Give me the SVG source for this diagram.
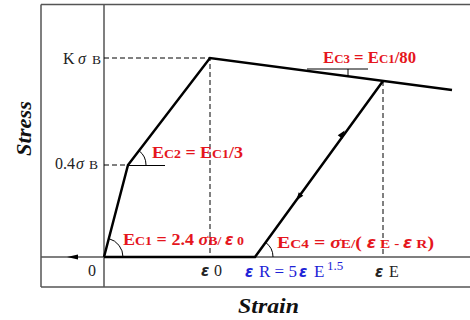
<svg xmlns="http://www.w3.org/2000/svg" width="470" height="320" viewBox="0 0 470 320">
<defs>
<style>
.frame{stroke:#555;stroke-width:1.5;fill:none}
.curve{stroke:#000;stroke-width:2.5;fill:none;stroke-linejoin:miter}
.dash{stroke:#000;stroke-width:1;stroke-dasharray:5,3;fill:none}
.thin{stroke:#000;stroke-width:1;fill:none}
.ax{font-family:"Liberation Serif","Times New Roman",serif;font-size:16px;fill:#222}
.red{font-family:"Liberation Serif","Times New Roman",serif;font-size:17.5px;font-weight:bold;fill:#e5161d}
.blue{font-family:"Liberation Serif","Times New Roman",serif;font-size:17px;fill:#1c22d6}
.sm{font-size:13.5px}
.eps{font-family:"DejaVu Sans",sans-serif;font-weight:bold;font-style:italic}
.title{font-family:"Liberation Serif","Times New Roman",serif;font-size:21px;font-weight:bold;font-style:italic;fill:#111}
</style>
</defs>
<g id="frame">
<path class="frame" d="M41,4.5 H470 M41,4.5 V287 M104,4.5 V287 M41,257 H470 M41,287 H470"/>
</g>
<g id="connectors">
<path class="dash" d="M104,58 H210 V257 M104,165 H128 M383,81 V257"/>
<path class="thin" d="M128,165.5 H165 M307,69 H368 M348,69 V76"/>
<path class="thin" d="M108.8,238.6 A19,19 0 0 1 123,257 M139,150.7 A18,18 0 0 1 146,165 M265.6,242.4 A18,18 0 0 1 273,257"/>
<path class="curve" d="M104,257 L128,165 L210,58 L452,90"/>
<path class="curve" d="M104,257 H255 L383,81"/>
<polygon points="67,257 78,254.5 78,259.5" fill="#000"/>
<polygon points="0,-2.8 8,0 0,2.8" fill="#000" transform="translate(340,137) rotate(-54)"/>
<polygon points="0,-2.8 8,0 0,2.8" fill="#000" transform="translate(301,194) rotate(126)"/>
</g>
<g id="yaxis-labels">
<text class="ax" y="64"><tspan x="63">K</tspan><tspan x="78" font-style="italic">σ</tspan><tspan x="92" class="sm">B</tspan></text>
<text class="ax" y="169"><tspan x="55">0.4</tspan><tspan x="76" font-style="italic">σ</tspan><tspan x="89" class="sm">B</tspan></text>
</g>
<g id="xaxis-labels">
<text class="ax" x="88" y="276">0</text>
<text class="ax" y="276"><tspan x="201" class="eps" font-size="15">ε</tspan><tspan x="214">0</tspan></text>
<text class="blue" y="277"><tspan x="245" class="eps" font-size="15">ε</tspan><tspan x="259">R = 5</tspan><tspan x="299" class="eps" font-size="15">ε</tspan><tspan x="314">E</tspan><tspan x="327" y="270" font-size="13">1.5</tspan></text>
<text class="ax" y="277"><tspan x="375" class="eps" font-size="15">ε</tspan><tspan x="389">E</tspan></text>
</g>
<g id="label-ec1">
<text class="red" y="245" x="123" textLength="121" lengthAdjust="spacingAndGlyphs">E<tspan class="sm">C1</tspan> = 2.4 <tspan font-style="italic">σ</tspan><tspan class="sm">B/ </tspan><tspan class="eps" font-size="15">ε</tspan><tspan class="sm"> 0</tspan></text>
</g>
<g id="label-ec2">
<text class="red" y="158" x="152" textLength="91" lengthAdjust="spacingAndGlyphs">E<tspan class="sm">C2</tspan> = E<tspan class="sm">C1</tspan>/3</text>
</g>
<g id="label-ec3">
<text class="red" y="63" x="323" textLength="93" lengthAdjust="spacingAndGlyphs">E<tspan class="sm">C3</tspan> = E<tspan class="sm">C1</tspan>/80</text>
</g>
<g id="label-ec4">
<text class="red" y="248" x="277" textLength="157" lengthAdjust="spacingAndGlyphs">E<tspan class="sm">C4</tspan>  =  <tspan font-style="italic">σ</tspan><tspan class="sm">E/</tspan>( <tspan class="eps" font-size="15">ε</tspan><tspan class="sm"> E - </tspan><tspan class="eps" font-size="15">ε</tspan><tspan class="sm"> R</tspan>)</text>
</g>
<g id="axis-titles">
<text class="title" transform="translate(31,156) rotate(-90)" textLength="55" lengthAdjust="spacingAndGlyphs">Stress</text>
<text class="title" x="238" y="313" textLength="61" lengthAdjust="spacingAndGlyphs">Strain</text>
</g>
</svg>
